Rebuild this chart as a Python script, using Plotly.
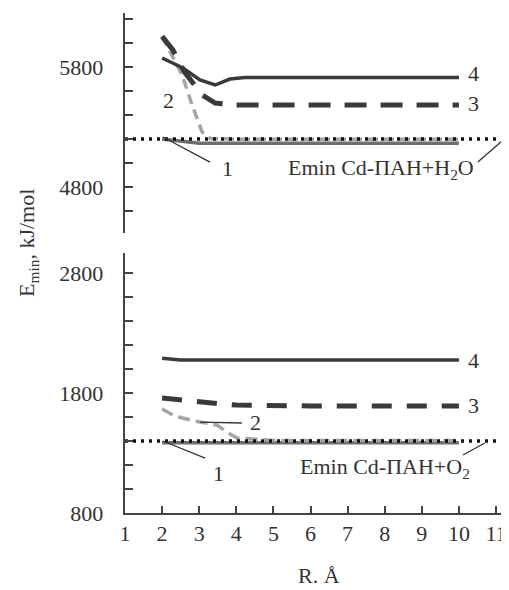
import plotly.graph_objects as go

# ---------------- data ----------------
# top panel (Cd-ПАН + H2O)
top_x1 = [2, 3, 4, 5, 6, 7, 8, 9, 10]
top_y1 = [5200, 5165, 5165, 5165, 5165, 5165, 5165, 5165, 5165]
top_x2 = [2, 2.54, 2.81, 3.08, 3.3, 4, 5, 6, 7, 8, 9, 10]
top_y2 = [6055, 5733, 5483, 5258, 5205, 5198, 5198, 5198, 5198, 5198, 5198, 5198]
top_x3 = [2, 2.29, 2.6, 3.08, 3.43, 4, 5, 6, 7, 8, 9, 10]
top_y3 = [6055, 5942, 5760, 5567, 5500, 5483, 5483, 5483, 5483, 5483, 5483, 5483]
top_x4 = [2, 2.56, 3.02, 3.43, 3.83, 4.23, 5, 6, 7, 8, 9, 10]
top_y4 = [5875, 5792, 5692, 5650, 5700, 5712, 5712, 5712, 5712, 5712, 5712, 5712]
top_ref = 5200

# bottom panel (Cd-ПАН + O2)
bot_x1 = [2, 3, 4, 5, 6, 7, 8, 9, 10]
bot_y1 = [1385, 1385, 1385, 1385, 1385, 1385, 1385, 1385, 1385]
bot_x2 = [2, 2.29, 2.54, 3.02, 3.48, 3.78, 4.02, 4.64, 5, 6, 7, 8, 9, 10]
bot_y2 = [1667, 1617, 1592, 1558, 1533, 1467, 1425, 1410, 1405, 1405, 1405, 1405, 1405, 1405]
bot_x3 = [2, 2.5, 3, 3.5, 4, 5, 6, 7, 8, 9, 10]
bot_y3 = [1758, 1740, 1725, 1712, 1700, 1692, 1692, 1692, 1692, 1692, 1692]
bot_x4 = [2, 2.5, 3, 4, 5, 6, 7, 8, 9, 10]
bot_y4 = [2090, 2075, 2075, 2075, 2075, 2075, 2075, 2075, 2075, 2075]
bot_ref = 1400

x_range = [1, 11.35]
x_ticks = [1, 2, 3, 4, 5, 6, 7, 8, 9, 10, 11]

FONT = "Liberation Serif"
DARK = "#3a3a3a"
GREY1 = "#6e6e6e"
GREY2 = "#a4a4a4"

fig = go.Figure()

def add_panel(xa, ya, x1, y1, x2, y2, x3, y3, x4, y4, ref, dash2, dash3):
    fig.add_trace(go.Scatter(x=x1, y=y1, mode="lines", xaxis=xa, yaxis=ya,
                             line=dict(color=GREY1, width=3.5), showlegend=False))
    fig.add_trace(go.Scatter(x=x2, y=y2, mode="lines", xaxis=xa, yaxis=ya,
                             line=dict(color=GREY2, width=3.5, dash=dash2), showlegend=False))
    fig.add_trace(go.Scatter(x=x_range, y=[ref, ref], mode="lines", xaxis=xa, yaxis=ya,
                             line=dict(color="#111111", width=3.5, dash="3px,5px"), showlegend=False))
    fig.add_trace(go.Scatter(x=x3, y=y3, mode="lines", xaxis=xa, yaxis=ya,
                             line=dict(color=DARK, width=5, dash=dash3), showlegend=False))
    fig.add_trace(go.Scatter(x=x4, y=y4, mode="lines", xaxis=xa, yaxis=ya,
                             line=dict(color=DARK, width=3.5), showlegend=False))

add_panel("x2", "y2", top_x1, top_y1, top_x2, top_y2, top_x3, top_y3, top_x4, top_y4,
          top_ref, "10px,6px", "22px,14px")
add_panel("x", "y", bot_x1, bot_y1, bot_x2, bot_y2, bot_x3, bot_y3, bot_x4, bot_y4,
          bot_ref, "12px,6px", "20px,15px")

tickfont = dict(family=FONT, size=22, color="#333333")
yax_common = dict(showgrid=False, zeroline=False, showline=True, linewidth=2,
                  linecolor="#444444", ticks="inside", ticklen=8, tickwidth=1.5,
                  tickcolor="#444444", tickfont=tickfont, dtick=1000,
                  ticksuffix="\u2002\u2009",
                  minor=dict(dtick=200, ticks="inside", ticklen=8, tickwidth=1.5,
                             tickcolor="#444444", showgrid=False))

fig.update_layout(
    width=501, height=582,
    margin=dict(l=117, r=0, t=5, b=77),
    paper_bgcolor="white", plot_bgcolor="white",
    xaxis=dict(domain=[0, 1], range=x_range, anchor="y", tickvals=x_ticks,
               showgrid=False, zeroline=False, showline=True, linewidth=2,
               linecolor="#444444", ticks="inside", ticklen=7, tickwidth=1.5,
               tickcolor="#444444", tickfont=tickfont),
    yaxis=dict(domain=[0, 0.52], range=[800, 2967], tick0=800, anchor="x", **yax_common),
    xaxis2=dict(domain=[0, 1], range=x_range, anchor="y2", visible=False),
    yaxis2=dict(domain=[0.56, 1], range=[4417, 6250], tick0=4800, anchor="x2", **yax_common),
)

lf = dict(family=FONT, size=22, color="#333333")

def label(x, y, text, ya, xa):
    fig.add_annotation(x=x, y=y, text=text, xref=xa, yref=ya, showarrow=False, font=lf,
                       xanchor="center", yanchor="middle")

def leader(x0, y0, x1, y1, ya, xa):
    fig.add_shape(type="line", x0=x0, y0=y0, x1=x1, y1=y1, xref=xa, yref=ya,
                  line=dict(color="#333333", width=1.3))

# top panel labels
label(10.38, 5750, "4", "y2", "x2")
label(10.38, 5500, "3", "y2", "x2")
label(2.16, 5525, "2", "y2", "x2")
label(3.75, 4958, "1", "y2", "x2")
leader(2.02, 5217, 3.29, 5008, "y2", "x2")
label(7.9, 4950, "Emin Cd-ПАН+H<sub>2</sub>O", "y2", "x2")
leader(10.51, 5008, 11.19, 5192, "y2", "x2")

# bottom panel labels
label(10.38, 2075, "4", "y", "x")
label(10.38, 1700, "3", "y", "x")
label(4.53, 1558, "2", "y", "x")
leader(3.02, 1558, 4.15, 1550, "y", "x")
label(3.53, 1133, "1", "y", "x")
leader(2.02, 1400, 3.16, 1258, "y", "x")
label(8.0, 1175, "Emin Cd-ПАН+O<sub>2</sub>", "y", "x")
leader(10.11, 1283, 10.70, 1383, "y", "x")

# axis titles
fig.add_annotation(x=-0.2526, y=0.54, xref="paper", yref="paper", showarrow=False,
                   xanchor="center", yanchor="middle",
                   text="E<sub>min</sub>, kJ/mol", textangle=-90,
                   font=dict(family=FONT, size=22, color="#333333"))
fig.add_annotation(x=0.505, y=-0.124, xref="paper", yref="paper", showarrow=False,
                   xanchor="center", yanchor="middle",
                   text="R. Å", font=dict(family=FONT, size=22, color="#333333"))

fig.write_html("out.html")
